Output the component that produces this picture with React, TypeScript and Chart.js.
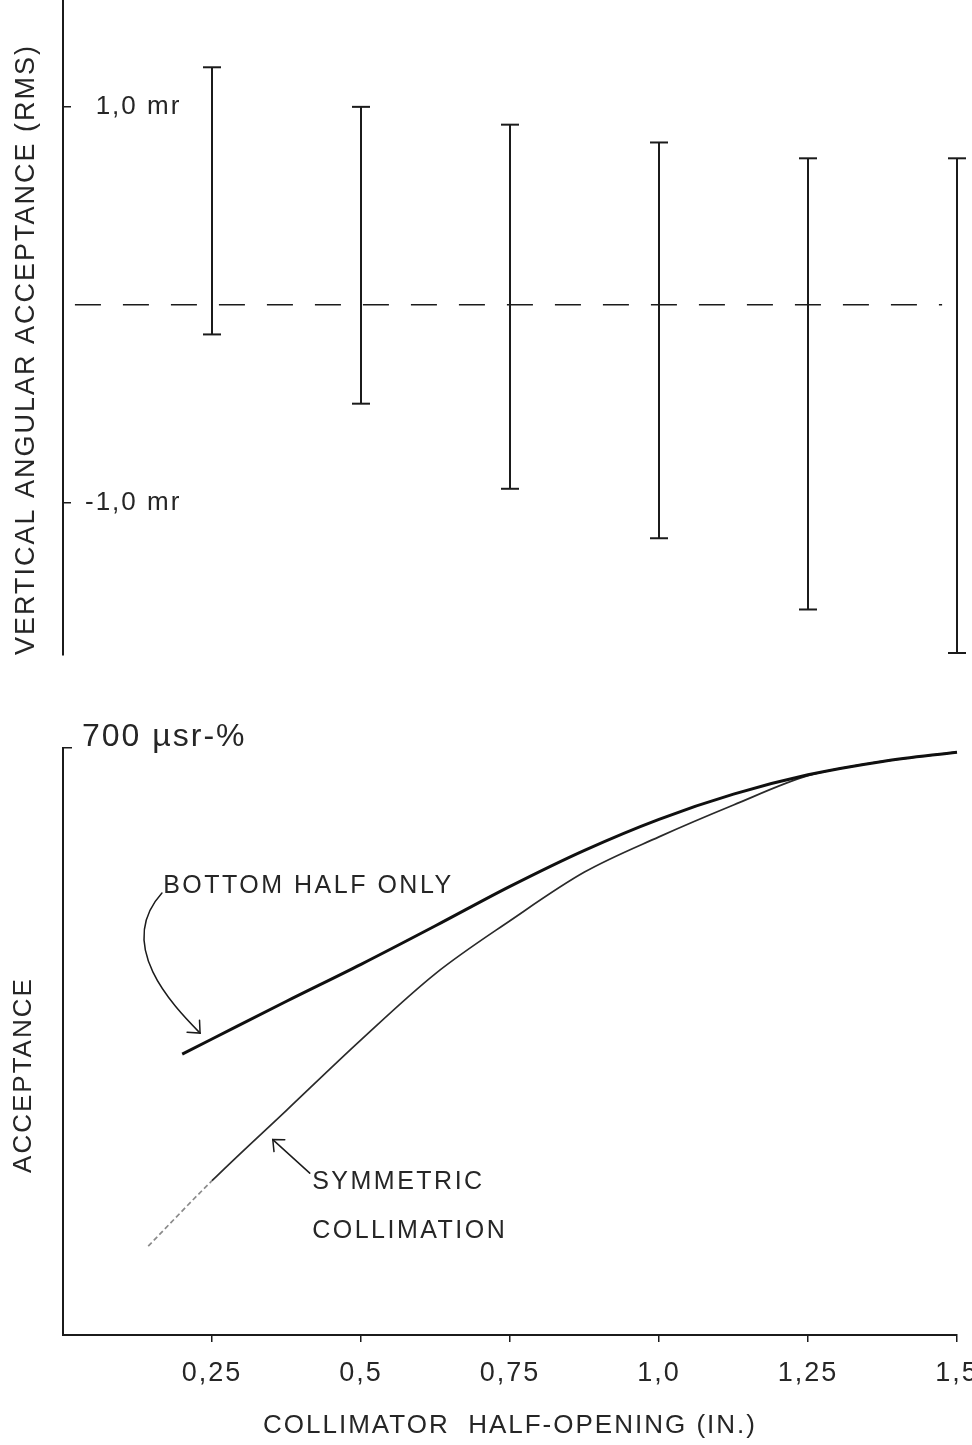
import React, { useEffect, useRef } from 'react';
import { Chart, registerables } from 'chart.js';

Chart.register(...registerables);

// ---------- shared x axis (collimator half-opening, inches) ----------
const xTickValues = [0.25, 0.5, 0.75, 1.0, 1.25, 1.5];
const xTickLabels = ['0,25', '0,5', '0,75', '1,0', '1,25', '1,5'];

// ---------- top panel: vertical angular acceptance (mr) ----------
const barPositions = [0.25, 0.5, 0.75, 1.0, 1.25, 1.5];
const barUpper = [1.2, 1.0, 0.91, 0.82, 0.74, 0.74];
const barLower = [-0.15, -0.5, -0.93, -1.18, -1.54, -1.76];
const topTickValues = [-1, 1];
const topTickLabels = ['-1,0 mr', '1,0 mr'];
const centerLineX = [0.02, 1.475];
const centerLineY = [0, 0];

// ---------- bottom panel: acceptance (µsr-%) ----------
const bottomHalfX = [0.2, 0.25, 0.375, 0.5, 0.625, 0.75, 0.875, 1.0, 1.125, 1.25, 1.375, 1.5];
const bottomHalfY = [335, 353, 398, 442, 488, 535, 578, 615, 645, 668, 684, 695];
const symmetricX = [0.143, 0.25, 0.375, 0.5, 0.625, 0.75, 0.875, 1.0, 1.125, 1.25, 1.375, 1.5];
const symmetricY = [106, 184, 268, 352, 431, 494, 552, 594, 632, 667, 684, 695];
const bottomTickValues = [700];
const bottomTickLabels = ['700 µsr-%'];

// annotation anchors (data units: x inches, y µsr-%)
const noteTexts = ['BOTTOM HALF ONLY', 'SYMMETRIC', 'COLLIMATION'];
const noteX = [0.168, 0.418, 0.418];
const noteY = [527, 174, 116];
const bottomArrowPath = [[0.166, 527], [0.087, 465], [0.183, 394], [0.23, 360]];
const symmetricArrowPath = [[0.414, 193], [0.352, 233]];
const acceptanceTitleY = 310;

const FAMILY = '"Liberation Sans", Arial, sans-serif';
const INK = '#1b1b1b';
const TEXT = '#262626';

Chart.defaults.font.family = FAMILY;

const spacingPlugin = {
  id: 'spacing',
  beforeDraw(chart: any) {
    (chart.ctx as any).letterSpacing = '2px';
  },
};

function arrowHead(ctx: CanvasRenderingContext2D, fx: number, fy: number, tx: number, ty: number, len: number) {
  const ang = Math.atan2(ty - fy, tx - fx);
  const spread = (42 * Math.PI) / 180;
  ctx.beginPath();
  ctx.moveTo(tx + len * Math.cos(ang + Math.PI - spread), ty + len * Math.sin(ang + Math.PI - spread));
  ctx.lineTo(tx, ty);
  ctx.lineTo(tx + len * Math.cos(ang + Math.PI + spread), ty + len * Math.sin(ang + Math.PI + spread));
  ctx.stroke();
}

const annotationPlugin = {
  id: 'notes',
  afterDraw(chart: any) {
    const { ctx, scales } = chart;
    const xs = scales.x;
    const ys = scales.y;
    const px = (v: number) => xs.getPixelForValue(v);
    const py = (v: number) => ys.getPixelForValue(v);
    ctx.save();
    (ctx as any).letterSpacing = '2.5px';
    ctx.fillStyle = TEXT;
    ctx.font = `25px ${FAMILY}`;
    ctx.textAlign = 'left';
    ctx.textBaseline = 'alphabetic';
    noteTexts.forEach((t, i) => ctx.fillText(t, px(noteX[i]), py(noteY[i])));

    ctx.strokeStyle = INK;
    ctx.lineWidth = 1.5;
    ctx.lineCap = 'round';
    const b = bottomArrowPath.map(([x, y]) => [px(x), py(y)]);
    ctx.beginPath();
    ctx.moveTo(b[0][0], b[0][1]);
    ctx.bezierCurveTo(b[1][0], b[1][1], b[2][0], b[2][1], b[3][0], b[3][1]);
    ctx.stroke();
    arrowHead(ctx, b[2][0], b[2][1], b[3][0], b[3][1], 13);

    const s = symmetricArrowPath.map(([x, y]) => [px(x), py(y)]);
    ctx.beginPath();
    ctx.moveTo(s[0][0], s[0][1]);
    ctx.lineTo(s[1][0], s[1][1]);
    ctx.stroke();
    arrowHead(ctx, s[0][0], s[0][1], s[1][0], s[1][1], 12);

    // y-axis title of the lower panel
    (ctx as any).letterSpacing = '2px';
    ctx.font = `26px ${FAMILY}`;
    ctx.textAlign = 'center';
    ctx.textBaseline = 'middle';
    ctx.translate(ys.left + 24, py(acceptanceTitleY));
    ctx.rotate(-Math.PI / 2);
    ctx.fillText('ACCEPTANCE', 0, 0);
    ctx.restore();
  },
};

function topConfig(): any {
  const bars = barPositions.map((x, i) => ({
    data: [
      { x, y: barLower[i] },
      { x, y: barUpper[i] },
    ],
    borderColor: INK,
    borderWidth: 2,
    pointStyle: 'line',
    pointRadius: 9,
    pointBorderWidth: 2,
    pointBorderColor: INK,
    clip: false,
  }));
  const zero = {
    data: centerLineX.map((x, i) => ({ x, y: centerLineY[i] })),
    borderColor: INK,
    borderWidth: 1.6,
    borderDash: [26, 22],
    pointRadius: 0,
    clip: false,
  };
  return {
    type: 'line',
    data: { datasets: [...bars, zero] },
    plugins: [spacingPlugin],
    options: {
      responsive: false,
      animation: false,
      events: [],
      layout: { autoPadding: false, padding: { left: 0, right: 15, top: 0, bottom: 35 } },
      plugins: { legend: { display: false }, tooltip: { enabled: false } },
      scales: {
        x: { type: 'linear', min: 0, max: 1.5, display: false },
        y: {
          type: 'linear',
          min: -1.77,
          max: 1.54,
          afterBuildTicks: (s: any) => {
            s.ticks = topTickValues.map((v) => ({ value: v }));
          },
          afterFit: (s: any) => {
            s.width = 63;
            s.paddingTop = 0;
            s.paddingBottom = 0;
          },
          grid: { display: true, drawOnChartArea: false, drawTicks: true, tickLength: -8, color: INK, lineWidth: 1.5 },
          border: { display: true, color: INK, width: 2 },
          ticks: {
            mirror: true,
            crossAlign: 'far',
            padding: 36,
            color: TEXT,
            font: { size: 26 },
            callback: (v: number) => {
              const i = topTickValues.indexOf(v);
              return i >= 0 ? topTickLabels[i] : '';
            },
          },
          title: {
            display: true,
            text: 'VERTICAL ANGULAR ACCEPTANCE (RMS)',
            align: 'start',
            color: TEXT,
            font: { size: 27 },
            padding: { top: 10, bottom: 0 },
          },
        },
      },
    },
  };
}

function bottomConfig(): any {
  return {
    type: 'line',
    data: {
      datasets: [
        {
          label: 'Bottom half only',
          data: bottomHalfX.map((x, i) => ({ x, y: bottomHalfY[i] })),
          borderColor: '#101010',
          borderWidth: 3,
          pointRadius: 0,
          cubicInterpolationMode: 'monotone',
          clip: false,
        },
        {
          label: 'Symmetric collimation',
          data: symmetricX.map((x, i) => ({ x, y: symmetricY[i] })),
          borderColor: '#2a2a2a',
          borderWidth: 1.7,
          pointRadius: 0,
          cubicInterpolationMode: 'monotone',
          clip: false,
          segment: {
            borderColor: (c: any) => (c.p0.parsed.x < 0.2 ? '#8a8a8a' : undefined),
            borderDash: (c: any) => (c.p0.parsed.x < 0.2 ? [5, 3] : undefined),
          },
        },
      ],
    },
    plugins: [spacingPlugin, annotationPlugin],
    options: {
      responsive: false,
      animation: false,
      events: [],
      layout: { autoPadding: false, padding: { left: 0, right: 15, top: 58, bottom: 0 } },
      plugins: { legend: { display: false }, tooltip: { enabled: false } },
      scales: {
        x: {
          type: 'linear',
          min: 0,
          max: 1.5,
          afterBuildTicks: (s: any) => {
            s.ticks = xTickValues.map((v) => ({ value: v }));
          },
          afterFit: (s: any) => {
            s.height = 110;
            s.paddingLeft = 0;
            s.paddingRight = 0;
          },
          grid: { display: true, drawOnChartArea: false, drawTicks: true, tickLength: 7, color: INK, lineWidth: 1.5 },
          border: { display: true, color: INK, width: 2 },
          ticks: {
            autoSkip: false,
            maxRotation: 0,
            padding: 15,
            color: TEXT,
            font: { size: 27 },
            callback: (v: number) => {
              const i = xTickValues.indexOf(v);
              return i >= 0 ? xTickLabels[i] : '';
            },
          },
          title: {
            display: true,
            text: 'COLLIMATOR  HALF-OPENING (IN.)',
            color: TEXT,
            font: { size: 26 },
            padding: { top: 0, bottom: 4 },
          },
        },
        y: {
          type: 'linear',
          min: 0,
          max: 700,
          afterBuildTicks: (s: any) => {
            s.ticks = bottomTickValues.map((v) => ({ value: v }));
          },
          afterFit: (s: any) => {
            s.width = 63;
            s.paddingTop = 0;
            s.paddingBottom = 0;
          },
          grid: { display: true, drawOnChartArea: false, drawTicks: true, tickLength: -9, color: INK, lineWidth: 1.5 },
          border: { display: true, color: INK, width: 2 },
          ticks: {
            mirror: true,
            crossAlign: 'near',
            padding: 19,
            labelOffset: -11,
            color: TEXT,
            font: { size: 32 },
            callback: (v: number) => {
              const i = bottomTickValues.indexOf(v);
              return i >= 0 ? bottomTickLabels[i] : '';
            },
          },
          title: { display: false },
        },
      },
    },
  };
}

export default function App() {
  const topRef = useRef<HTMLCanvasElement>(null);
  const botRef = useRef<HTMLCanvasElement>(null);

  useEffect(() => {
    const top = new Chart(topRef.current as HTMLCanvasElement, topConfig());
    const bot = new Chart(botRef.current as HTMLCanvasElement, bottomConfig());
    return () => {
      top.destroy();
      bot.destroy();
    };
  }, []);

  return (
    <div
      style={{
        position: 'absolute',
        left: 0,
        top: 0,
        width: 972,
        height: 1445,
        background: '#ffffff',
        overflow: 'hidden',
      }}
    >
      <canvas ref={topRef} width={972} height={690} style={{ position: 'absolute', left: 0, top: 0 }} />
      <canvas ref={botRef} width={972} height={755} style={{ position: 'absolute', left: 0, top: 690 }} />
    </div>
  );
}
